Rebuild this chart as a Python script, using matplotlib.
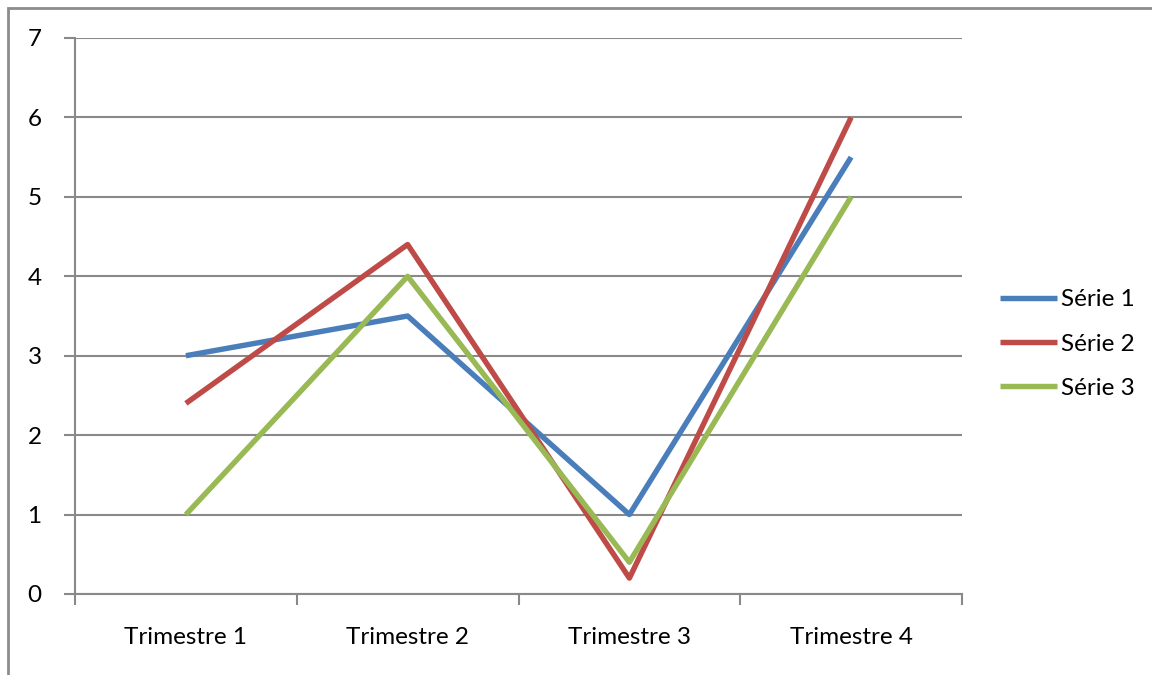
import matplotlib.pyplot as plt
from matplotlib.patches import Rectangle

categories = ["Trimestre 1", "Trimestre 2", "Trimestre 3", "Trimestre 4"]
serie1 = [3, 3.5, 1, 5.5]
serie2 = [2.4, 4.4, 0.2, 6]
serie3 = [1, 4, 0.4, 5]
names = ["Série 1", "Série 2", "Série 3"]
colors = ["#4A7EBB", "#BE4B48", "#98B954"]

plt.rcParams['font.family'] = ['Lato', 'DejaVu Sans']
grid_col = "#898989"
fs = 17.5

fig = plt.figure(figsize=(11.52, 6.75), dpi=100)
W, H = 1152, 675
ax = fig.add_axes([75 / W, 1 - 594 / H, (962 - 75) / W, (594 - 38) / H])

x = range(1, len(categories) + 1)
for vals, name, c in zip([serie1, serie2, serie3], names, colors):
    ax.plot(x, vals, color=c, lw=3.9, label=name, solid_capstyle='butt', zorder=3)

ax.set_xlim(0.5, 4.5)
ax.set_ylim(0, 7)
ax.set_yticks(range(0, 8))
ax.set_xticks([0.5, 1.5, 2.5, 3.5, 4.5])
ax.set_xticklabels([])
ax.set_xticks(list(x), minor=True)
ax.set_xticklabels(categories, minor=True)
ax.tick_params(axis='x', which='minor', length=0, pad=24, labelsize=fs)
ax.tick_params(axis='x', which='major', length=8, width=1.5, color=grid_col)
ax.tick_params(axis='y', length=8, width=1.5, color=grid_col, pad=16, labelsize=fs)
ax.yaxis.grid(True, color=grid_col, lw=1.5)
ax.set_axisbelow(True)
for s in ['top', 'right']:
    ax.spines[s].set_visible(False)
for s in ['left', 'bottom']:
    ax.spines[s].set_color(grid_col)
    ax.spines[s].set_linewidth(1.5)

leg = ax.legend(loc='center left', bbox_to_anchor=(1000 / W, 1 - 344 / H),
                bbox_transform=fig.transFigure, frameon=False, borderaxespad=0,
                borderpad=0, fontsize=fs, handlelength=2.35, handletextpad=0.15,
                labelspacing=0.95)

# outer chart frame
fig.patches.append(Rectangle((8 / W, -0.1), 1.2, 1 - 8 / H + 0.1, transform=fig.transFigure,
                             fill=False, edgecolor="#8C8C8C", lw=2))

fig.savefig("out.png", dpi=100)
